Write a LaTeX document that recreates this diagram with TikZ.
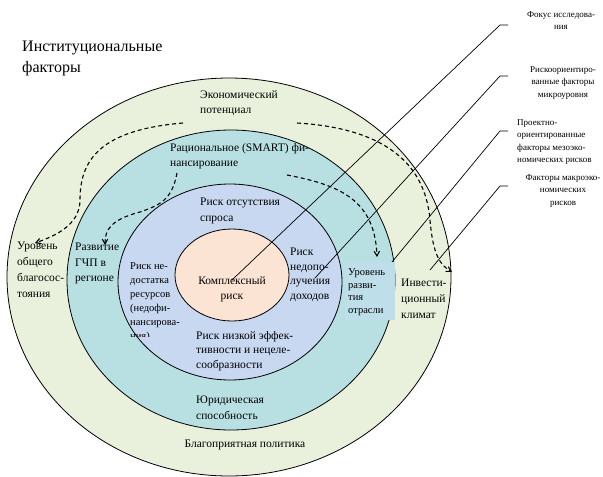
\documentclass[tikz,border=0pt]{standalone}
\usepackage{fontspec}
\setmainfont{Liberation Serif}
\usetikzlibrary{arrows,shapes.geometric}
\definecolor{outerring}{RGB}{233,241,220}
\definecolor{midring}{RGB}{184,224,226}
\definecolor{innerring}{RGB}{199,216,240}
\definecolor{corering}{RGB}{252,228,212}
\definecolor{branchbox}{RGB}{190,222,234}

\begin{document}
\begin{tikzpicture}[x=1pt, y=-1pt, >=angle 60,
  ring/.style = {draw, ellipse, inner sep=0pt, line width=0.8pt},
  txt/.style = {anchor=north west, align=left, inner sep=0pt, execute at begin node=\strut, font=\fontsize{11.5}{15.5}\selectfont},
  small/.style = {txt, font=\fontsize{10.5}{14}\selectfont},
  note/.style = {anchor=north, align=center, inner sep=0pt, execute at begin node=\strut, font=\fontsize{9}{12.5}\selectfont},
  flow/.style = {->, line width=1.1pt, dash pattern=on 4pt off 3pt}]
\useasboundingbox (0,0) rectangle (603,477);

% rings
\node[ring, fill=outerring, minimum width=444pt, minimum height=398pt] (outer) at (229,277) {};
\node[ring, fill=midring, minimum width=328pt, minimum height=300pt] (mid) at (231,280) {};
\node[ring, fill=innerring, minimum width=224pt, minimum height=196pt] (inner) at (230,282) {};
\node[ring, fill=corering, minimum width=114pt, minimum height=92pt] (core) at (232,275) {};

\node[txt, font=\fontsize{16}{21}\selectfont] (title) at (22,41) {Институциональные\\факторы};

% outer ring
\node[txt] (eco) at (200,90) {Экономический\\потенциал};
\node[txt, font=\fontsize{11.5}{16}\selectfont] (welfare) at (17,242) {Уровень\\общего\\благосос-\\тояния};
\node[txt, font=\fontsize{11.5}{16}\selectfont] (invest) at (401,279) {Инвести-\\ционный\\климат};
\node[txt, anchor=north] (policy) at (245,436) {Благоприятная политика};

% middle ring
\node[txt] (smart) at (170,143) {Рациональное (SMART) фи-\\нансирование};
\node[txt] (ppp) at (75,243) {Развитие\\ГЧП в\\регионе};
\node[small, fill=branchbox, inner sep=3pt, text width=44pt, minimum height=58pt, font=\fontsize{10.5}{12.7}\selectfont] (branch) at (345,262) {Уровень\\разви-\\тия\\отрасли};
\node[txt] (legal) at (196,396) {Юридическая\\способность};

% inner ring
\node[txt] (demand) at (200,198) {Риск отсутствия\\спроса};
\node[txt, font=\fontsize{11.5}{14.5}\selectfont] (income) at (290,248) {Риск\\недопо-\\лучения\\доходов};
\node[txt, font=\fontsize{11.5}{14.5}\selectfont] (low) at (196,331) {Риск низкой эффек-\\тивности и нецеле-\\сообразности};
\begin{scope}
\clip (120,255) rectangle (200,336);
\node[small] (lack) at (130,262) {Риск не-\\достатка\\ресурсов\\(недофи-\\нансирова-\\ния)};
\end{scope}

\node[txt, anchor=north, align=center] (complex) at (232,276) {Комплексный\\риск};

% labels on the right
\node[note] (focus) at (561,11) {Фокус исследова-\\ния};
\node[note] (micro) at (563,66) {Рискоориентиро-\\ванные факторы\\микроуровня};
\node[note, anchor=north west, align=left] (meso) at (517,119) {Проектно-\\ориентированные\\факторы мезоэко-\\номических рисков};
\node[note] (macro) at (563,174) {Факторы макроэко-\\номических\\рисков};

\coordinate (f1) at (508,25);  \coordinate (fcs) at (232,280);
\coordinate (m1) at (508,76);  \coordinate (mcr) at (315,278);
\coordinate (s1) at (508,131); \coordinate (mso) at (392,262);
\coordinate (k1) at (508,186); \coordinate (mac) at (430,270);
\draw[line width=0.7pt] (f1) -- ++(-8,0) -- (fcs);
\draw[line width=0.7pt] (m1) -- ++(-8,0) -- (mcr);
\draw[line width=0.7pt] (s1) -- ++(-8,0) -- (mso);
\draw[line width=0.7pt] (k1) -- ++(-8,0) -- (mac);

% dashed links
\coordinate (a1) at (183,123); \coordinate (a2) at (35,243);
\coordinate (b1) at (177,173); \coordinate (b2) at (105,245);
\coordinate (c1) at (287,175); \coordinate (c2) at (377,257);
\coordinate (d1) at (297,123); \coordinate (d2) at (452,272);
\draw[flow] (a1) .. controls (100,130) and (80,160) .. (80,200) .. controls (80,225) and (55,236) .. (a2);
\draw[flow] (b1) .. controls (172,200) and (160,205) .. (140,212) .. controls (110,220) and (105,230) .. (b2);
\draw[flow] (c1) .. controls (340,185) and (375,200) .. (c2);
\draw[flow] (d1) .. controls (380,128) and (425,160) .. (430,220) .. controls (433,255) and (440,265) .. (d2);
\end{tikzpicture}
\end{document}
